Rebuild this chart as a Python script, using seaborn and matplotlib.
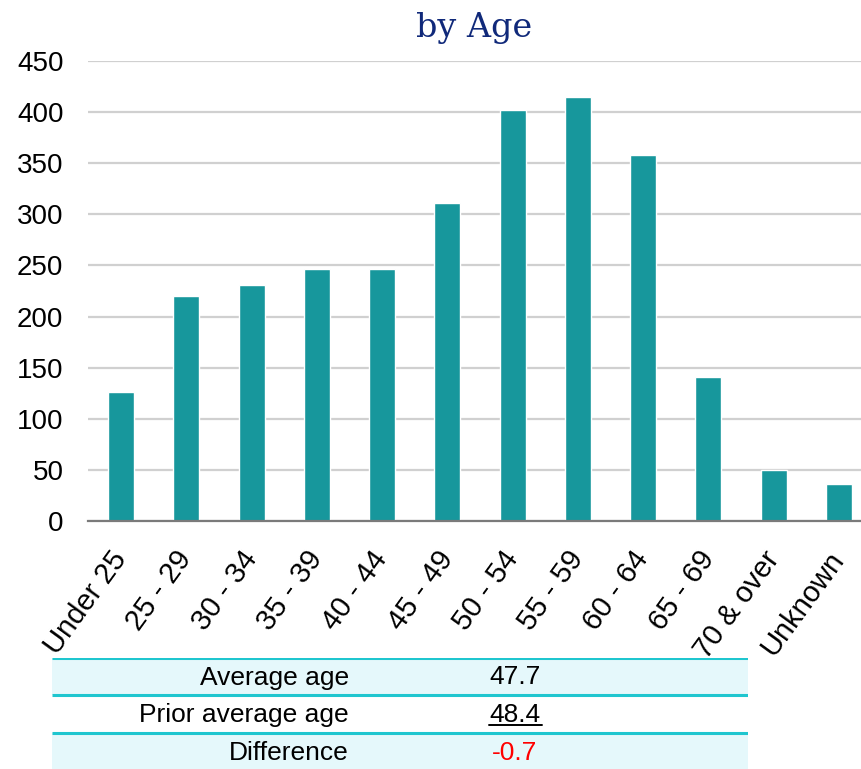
import matplotlib
matplotlib.use("Agg")
import matplotlib.pyplot as plt
import seaborn as sns
import pandas as pd

# Member counts by age band
age_bands = ["Under 25", "25 - 29", "30 - 34", "35 - 39", "40 - 44", "45 - 49",
             "50 - 54", "55 - 59", "60 - 64", "65 - 69", "70 & over", "Unknown"]
counts = [126, 220, 231, 247, 247, 311, 402, 415, 358, 141, 50, 36]

# Summary table beneath the chart
summary_labels = ["Average age", "Prior average age", "Difference"]
summary_values = ["47.7", "48.4", "-0.7"]

y_ticks = [0, 50, 100, 150, 200, 250, 300, 350, 400, 450]

BAR = "#17979C"
GRID = "#D0D0D0"
TEAL_LINE = "#1FC6CF"
ROW_FILL = "#E5F8FB"
TITLE = "#10297A"

sns.set_theme(style="white")
plt.rcParams["font.family"] = ["Liberation Sans", "DejaVu Sans"]

W, H = 862, 769
fig = plt.figure(figsize=(W / 100, H / 100), dpi=100)

# Bar chart axes (right edge runs a little past the canvas)
left, right, top, bottom = 88.4, 871.6, 61, 521
ax = fig.add_axes([left / W, 1 - bottom / H, (right - left) / W, (bottom - top) / H])

df = pd.DataFrame({"band": age_bands, "count": counts})
sns.barplot(data=df, x="band", y="count", order=age_bands, color=BAR,
            saturation=1, width=0.40, ax=ax, zorder=3)

ax.set_ylim(0, 450)
ax.set_yticks(y_ticks)
ax.set_yticklabels([str(v) for v in y_ticks])
ax.set_xlim(-0.5, len(age_bands) - 0.5)
ax.grid(axis="y", color=GRID, linewidth=1.6, zorder=0)
ax.grid(axis="x", visible=False)
for side in ["top", "right", "left"]:
    ax.spines[side].set_visible(False)
ax.spines["bottom"].set_color("#7A7A7A")
ax.spines["bottom"].set_linewidth(1.6)
ax.spines["bottom"].set_zorder(4)
ax.set_xlabel("")
ax.set_ylabel("")
ax.tick_params(axis="y", length=0, pad=18, labelsize=20, labelcolor="black")
ax.tick_params(axis="x", length=0, pad=24, labelsize=21, labelcolor="black")
for lbl in ax.get_xticklabels():
    lbl.set_rotation(54)
    lbl.set_ha("right")
    lbl.set_va("center")
    lbl.set_rotation_mode("anchor")

fig.text(474 / W, 1 - 37 / H, "by Age", family="DejaVu Serif", fontsize=24,
         color=TITLE, ha="center", va="baseline")

# Summary table
tx0, tx1, ty0, ty1 = 52, 748, 658, 771
tax = fig.add_axes([tx0 / W, 1 - ty1 / H, (tx1 - tx0) / W, (ty1 - ty0) / H])
tax.set_xlim(tx0, tx1)
tax.set_ylim(ty1, ty0)
tax.axis("off")
row_edges = [658, 695, 733, 771]
for i, (lab, val) in enumerate(zip(summary_labels, summary_values)):
    r0, r1 = row_edges[i], row_edges[i + 1]
    if i != 1:
        tax.add_patch(plt.Rectangle((tx0, r0), tx1 - tx0, r1 - r0,
                                    facecolor=ROW_FILL, edgecolor="none", zorder=1))
    mid = (r0 + r1) / 2 + 1
    tax.text(349, mid, lab, ha="right", va="center", fontsize=19, color="black", zorder=3)
    color = "#FF0000" if val.startswith("-") else "black"
    tax.text(515, mid, val, ha="center", va="center", fontsize=19, color=color, zorder=3)
    if i == 1:
        tax.plot([489, 542], [r1 - 8, r1 - 8], color="black", linewidth=1.4, zorder=3)
for yline in row_edges[:3]:
    tax.plot([tx0, tx1], [yline, yline], color=TEAL_LINE, linewidth=2.2, zorder=4,
             solid_capstyle="butt")

fig.savefig("out.png", dpi=100)
